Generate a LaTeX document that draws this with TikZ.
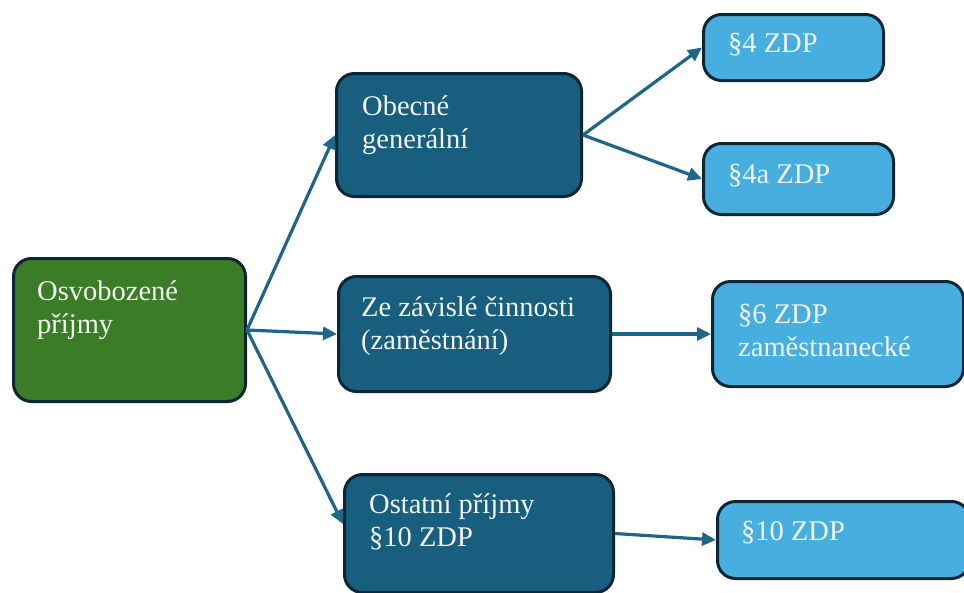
\documentclass[tikz,border=0pt]{standalone}
\usepackage{fontspec}
\setmainfont{Liberation Serif}
\usetikzlibrary{arrows.meta}
\definecolor{gfill}{HTML}{3A7D26}
\definecolor{dfill}{HTML}{175E7F}
\definecolor{lfill}{HTML}{47AFE0}
\definecolor{edgec}{HTML}{0C2636}
\definecolor{arrc}{HTML}{1E6587}
\definecolor{txtc}{HTML}{F4F4F4}
\tikzset{
  box/.style={draw=edgec, line width=3pt, rounded corners=18pt, anchor=north west, inner sep=0pt},
  gbox/.style={box, fill=gfill},
  dbox/.style={box, fill=dfill},
  lbox/.style={box, fill=lfill},
  txt/.style={anchor=base west, inner sep=0pt, text=txtc, align=left, font=\fontsize{28.5}{33}\selectfont},
  conn/.style={draw=arrc, line width=3.2pt, -{Triangle[length=14pt,width=13pt]}},
}
\begin{document}
\begin{tikzpicture}[x=1pt,y=-1pt]
\useasboundingbox (0,0) rectangle (964,592);
% boxes
\node[gbox, minimum width=232pt, minimum height=143pt] (g) at (12,257) {};
\node[dbox, minimum width=245pt, minimum height=123pt] (a) at (335,72) {};
\node[dbox, minimum width=272pt, minimum height=115pt] (b) at (337,275) {};
\node[dbox, minimum width=269pt, minimum height=118pt] (c) at (343,473) {};
\node[lbox, minimum width=180pt, minimum height=66pt] (a1) at (702,13) {};
\node[lbox, minimum width=190pt, minimum height=71pt] (a2) at (702,142) {};
\node[lbox, minimum width=251pt, minimum height=105pt] (b1) at (711,280) {};
\node[lbox, minimum width=252pt, minimum height=77pt] (c1) at (716,500) {};
% texts (base = last line)
\node[txt] (tg) at (37,333) {Osvobozené\\příjmy};
\node[txt] (ta) at (362,148) {Obecné\\generální};
\node[txt] (tb) at (361,349) {Ze závislé činnosti\\(zaměstnání)};
\node[txt] (tc) at (369,546) {Ostatní příjmy\\§10 ZDP};
\node[txt] (ta1) at (728,52) {§4 ZDP};
\node[txt] (ta2) at (728,183) {§4a ZDP};
\node[txt] (tb1) at (738,356) {§6 ZDP\\zaměstnanecké};
\node[txt] (tc1) at (741,540) {§10 ZDP};
% connectors
\draw[conn] (g.east) -- (a.west);
\draw[conn] (g.east) -- (b.west);
\draw[conn] (g.east) -- (c.176);
\draw[conn] (a.east) -- (a1.west);
\draw[conn] (a.east) -- (a2.west);
\draw[conn] (b.east) -- (b1.west);
\draw[conn] (c.east) -- (c1.west);
\end{tikzpicture}
\end{document}
